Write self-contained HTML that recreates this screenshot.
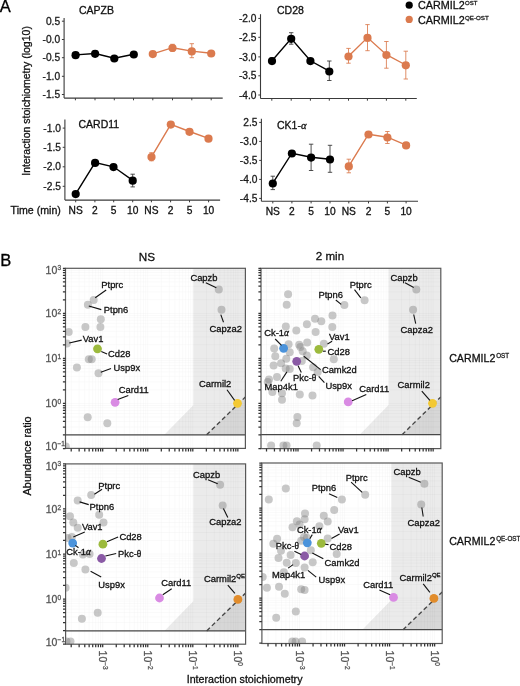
<!DOCTYPE html>
<html><head><meta charset="utf-8"><style>
html,body{margin:0;padding:0;background:#fff;width:520px;height:686px;overflow:hidden}
svg{filter:blur(0.3px);display:block;font-family:"Liberation Sans", sans-serif}
</style></head><body>
<svg width="520" height="686" viewBox="0 0 520 686">
<line x1="64.10" y1="18.00" x2="64.10" y2="98.10" stroke="#3a3a3a" stroke-width="1.1" />
<line x1="64.10" y1="98.10" x2="222.70" y2="98.10" stroke="#3a3a3a" stroke-width="1.1" />
<line x1="61.90" y1="21.20" x2="64.10" y2="21.20" stroke="#3a3a3a" stroke-width="1" />
<text x="60.10" y="24.85" font-size="10.2" fill="#1a1a1a" stroke="#1a1a1a" stroke-width="0.3" text-anchor="end" >0.5</text>
<line x1="61.90" y1="39.50" x2="64.10" y2="39.50" stroke="#3a3a3a" stroke-width="1" />
<text x="60.10" y="43.15" font-size="10.2" fill="#1a1a1a" stroke="#1a1a1a" stroke-width="0.3" text-anchor="end" >-0.0</text>
<line x1="61.90" y1="57.70" x2="64.10" y2="57.70" stroke="#3a3a3a" stroke-width="1" />
<text x="60.10" y="61.35" font-size="10.2" fill="#1a1a1a" stroke="#1a1a1a" stroke-width="0.3" text-anchor="end" >-0.5</text>
<line x1="61.90" y1="76.30" x2="64.10" y2="76.30" stroke="#3a3a3a" stroke-width="1" />
<text x="60.10" y="79.95" font-size="10.2" fill="#1a1a1a" stroke="#1a1a1a" stroke-width="0.3" text-anchor="end" >-1.0</text>
<line x1="61.90" y1="94.50" x2="64.10" y2="94.50" stroke="#3a3a3a" stroke-width="1" />
<text x="60.10" y="98.15" font-size="10.2" fill="#1a1a1a" stroke="#1a1a1a" stroke-width="0.3" text-anchor="end" >-1.5</text>
<line x1="75.40" y1="98.10" x2="75.40" y2="100.30" stroke="#3a3a3a" stroke-width="1" />
<line x1="95.00" y1="98.10" x2="95.00" y2="100.30" stroke="#3a3a3a" stroke-width="1" />
<line x1="114.30" y1="98.10" x2="114.30" y2="100.30" stroke="#3a3a3a" stroke-width="1" />
<line x1="133.50" y1="98.10" x2="133.50" y2="100.30" stroke="#3a3a3a" stroke-width="1" />
<line x1="152.80" y1="98.10" x2="152.80" y2="100.30" stroke="#3a3a3a" stroke-width="1" />
<line x1="172.50" y1="98.10" x2="172.50" y2="100.30" stroke="#3a3a3a" stroke-width="1" />
<line x1="191.80" y1="98.10" x2="191.80" y2="100.30" stroke="#3a3a3a" stroke-width="1" />
<line x1="211.20" y1="98.10" x2="211.20" y2="100.30" stroke="#3a3a3a" stroke-width="1" />
<text x="79.00" y="13.80" font-size="10.5" fill="#111" stroke="#111" stroke-width="0.3" text-anchor="start" >CAPZB</text>
<polyline points="75.60,54.90 95.10,53.50 114.30,58.20 133.80,54.20" fill="none" stroke="#000" stroke-width="1.4"/>
<line x1="95.10" y1="50.50" x2="95.10" y2="56.50" stroke="#333" stroke-width="1.0" stroke-opacity="0.85"/>
<line x1="92.90" y1="50.50" x2="97.30" y2="50.50" stroke="#333" stroke-width="1.0" stroke-opacity="0.85"/>
<line x1="92.90" y1="56.50" x2="97.30" y2="56.50" stroke="#333" stroke-width="1.0" stroke-opacity="0.85"/>
<circle cx="75.60" cy="55.20" r="4.1" fill="#000" />
<circle cx="95.10" cy="53.80" r="4.1" fill="#000" />
<circle cx="114.30" cy="58.50" r="4.1" fill="#000" />
<circle cx="133.80" cy="54.50" r="4.1" fill="#000" />
<polyline points="152.80,53.80 172.50,47.70 191.80,51.10 211.20,53.20" fill="none" stroke="#DB7A4E" stroke-width="1.4"/>
<line x1="172.50" y1="44.30" x2="172.50" y2="51.30" stroke="#DB7A4E" stroke-width="1.0" stroke-opacity="0.85"/>
<line x1="170.30" y1="44.30" x2="174.70" y2="44.30" stroke="#DB7A4E" stroke-width="1.0" stroke-opacity="0.85"/>
<line x1="170.30" y1="51.30" x2="174.70" y2="51.30" stroke="#DB7A4E" stroke-width="1.0" stroke-opacity="0.85"/>
<line x1="191.80" y1="43.70" x2="191.80" y2="57.70" stroke="#DB7A4E" stroke-width="1.0" stroke-opacity="0.85"/>
<line x1="189.60" y1="43.70" x2="194.00" y2="43.70" stroke="#DB7A4E" stroke-width="1.0" stroke-opacity="0.85"/>
<line x1="189.60" y1="57.70" x2="194.00" y2="57.70" stroke="#DB7A4E" stroke-width="1.0" stroke-opacity="0.85"/>
<circle cx="152.80" cy="54.10" r="4.1" fill="#DB7A4E" />
<circle cx="172.50" cy="48.00" r="4.1" fill="#DB7A4E" />
<circle cx="191.80" cy="51.40" r="4.1" fill="#DB7A4E" />
<circle cx="211.20" cy="53.50" r="4.1" fill="#DB7A4E" />
<line x1="260.50" y1="14.20" x2="260.50" y2="98.50" stroke="#3a3a3a" stroke-width="1.1" />
<line x1="260.50" y1="98.50" x2="416.80" y2="98.50" stroke="#3a3a3a" stroke-width="1.1" />
<line x1="258.30" y1="18.40" x2="260.50" y2="18.40" stroke="#3a3a3a" stroke-width="1" />
<text x="256.50" y="22.05" font-size="10.2" fill="#1a1a1a" stroke="#1a1a1a" stroke-width="0.3" text-anchor="end" >-2.0</text>
<line x1="258.30" y1="37.30" x2="260.50" y2="37.30" stroke="#3a3a3a" stroke-width="1" />
<text x="256.50" y="40.95" font-size="10.2" fill="#1a1a1a" stroke="#1a1a1a" stroke-width="0.3" text-anchor="end" >-2.5</text>
<line x1="258.30" y1="56.90" x2="260.50" y2="56.90" stroke="#3a3a3a" stroke-width="1" />
<text x="256.50" y="60.55" font-size="10.2" fill="#1a1a1a" stroke="#1a1a1a" stroke-width="0.3" text-anchor="end" >-3.0</text>
<line x1="258.30" y1="75.80" x2="260.50" y2="75.80" stroke="#3a3a3a" stroke-width="1" />
<text x="256.50" y="79.45" font-size="10.2" fill="#1a1a1a" stroke="#1a1a1a" stroke-width="0.3" text-anchor="end" >-3.5</text>
<line x1="258.30" y1="95.00" x2="260.50" y2="95.00" stroke="#3a3a3a" stroke-width="1" />
<text x="256.50" y="98.65" font-size="10.2" fill="#1a1a1a" stroke="#1a1a1a" stroke-width="0.3" text-anchor="end" >-4.0</text>
<line x1="271.80" y1="98.50" x2="271.80" y2="100.70" stroke="#3a3a3a" stroke-width="1" />
<line x1="291.20" y1="98.50" x2="291.20" y2="100.70" stroke="#3a3a3a" stroke-width="1" />
<line x1="310.40" y1="98.50" x2="310.40" y2="100.70" stroke="#3a3a3a" stroke-width="1" />
<line x1="329.30" y1="98.50" x2="329.30" y2="100.70" stroke="#3a3a3a" stroke-width="1" />
<line x1="348.50" y1="98.50" x2="348.50" y2="100.70" stroke="#3a3a3a" stroke-width="1" />
<line x1="367.40" y1="98.50" x2="367.40" y2="100.70" stroke="#3a3a3a" stroke-width="1" />
<line x1="386.40" y1="98.50" x2="386.40" y2="100.70" stroke="#3a3a3a" stroke-width="1" />
<line x1="405.80" y1="98.50" x2="405.80" y2="100.70" stroke="#3a3a3a" stroke-width="1" />
<text x="277.00" y="14.20" font-size="10.5" fill="#111" stroke="#111" stroke-width="0.3" text-anchor="start" >CD28</text>
<polyline points="272.00,60.80 291.20,38.50 310.40,60.80 329.30,71.20" fill="none" stroke="#000" stroke-width="1.4"/>
<line x1="272.00" y1="58.00" x2="272.00" y2="63.50" stroke="#333" stroke-width="1.0" stroke-opacity="0.85"/>
<line x1="269.80" y1="58.00" x2="274.20" y2="58.00" stroke="#333" stroke-width="1.0" stroke-opacity="0.85"/>
<line x1="269.80" y1="63.50" x2="274.20" y2="63.50" stroke="#333" stroke-width="1.0" stroke-opacity="0.85"/>
<line x1="291.20" y1="32.70" x2="291.20" y2="44.20" stroke="#333" stroke-width="1.0" stroke-opacity="0.85"/>
<line x1="289.00" y1="32.70" x2="293.40" y2="32.70" stroke="#333" stroke-width="1.0" stroke-opacity="0.85"/>
<line x1="289.00" y1="44.20" x2="293.40" y2="44.20" stroke="#333" stroke-width="1.0" stroke-opacity="0.85"/>
<line x1="329.30" y1="61.00" x2="329.30" y2="80.50" stroke="#333" stroke-width="1.0" stroke-opacity="0.85"/>
<line x1="327.10" y1="61.00" x2="331.50" y2="61.00" stroke="#333" stroke-width="1.0" stroke-opacity="0.85"/>
<line x1="327.10" y1="80.50" x2="331.50" y2="80.50" stroke="#333" stroke-width="1.0" stroke-opacity="0.85"/>
<circle cx="272.00" cy="61.10" r="4.1" fill="#000" />
<circle cx="291.20" cy="38.80" r="4.1" fill="#000" />
<circle cx="310.40" cy="61.10" r="4.1" fill="#000" />
<circle cx="329.30" cy="71.50" r="4.1" fill="#000" />
<polyline points="348.50,56.20 367.50,37.60 386.40,54.70 405.80,65.00" fill="none" stroke="#DB7A4E" stroke-width="1.4"/>
<line x1="348.50" y1="48.40" x2="348.50" y2="63.20" stroke="#DB7A4E" stroke-width="1.0" stroke-opacity="0.85"/>
<line x1="346.30" y1="48.40" x2="350.70" y2="48.40" stroke="#DB7A4E" stroke-width="1.0" stroke-opacity="0.85"/>
<line x1="346.30" y1="63.20" x2="350.70" y2="63.20" stroke="#DB7A4E" stroke-width="1.0" stroke-opacity="0.85"/>
<line x1="367.50" y1="24.60" x2="367.50" y2="50.70" stroke="#DB7A4E" stroke-width="1.0" stroke-opacity="0.85"/>
<line x1="365.30" y1="24.60" x2="369.70" y2="24.60" stroke="#DB7A4E" stroke-width="1.0" stroke-opacity="0.85"/>
<line x1="365.30" y1="50.70" x2="369.70" y2="50.70" stroke="#DB7A4E" stroke-width="1.0" stroke-opacity="0.85"/>
<line x1="386.40" y1="41.50" x2="386.40" y2="68.20" stroke="#DB7A4E" stroke-width="1.0" stroke-opacity="0.85"/>
<line x1="384.20" y1="41.50" x2="388.60" y2="41.50" stroke="#DB7A4E" stroke-width="1.0" stroke-opacity="0.85"/>
<line x1="384.20" y1="68.20" x2="388.60" y2="68.20" stroke="#DB7A4E" stroke-width="1.0" stroke-opacity="0.85"/>
<line x1="405.80" y1="51.20" x2="405.80" y2="79.00" stroke="#DB7A4E" stroke-width="1.0" stroke-opacity="0.85"/>
<line x1="403.60" y1="51.20" x2="408.00" y2="51.20" stroke="#DB7A4E" stroke-width="1.0" stroke-opacity="0.85"/>
<line x1="403.60" y1="79.00" x2="408.00" y2="79.00" stroke="#DB7A4E" stroke-width="1.0" stroke-opacity="0.85"/>
<circle cx="348.50" cy="56.50" r="4.1" fill="#DB7A4E" />
<circle cx="367.50" cy="37.90" r="4.1" fill="#DB7A4E" />
<circle cx="386.40" cy="55.00" r="4.1" fill="#DB7A4E" />
<circle cx="405.80" cy="65.30" r="4.1" fill="#DB7A4E" />
<line x1="64.90" y1="119.60" x2="64.90" y2="200.10" stroke="#3a3a3a" stroke-width="1.1" />
<line x1="64.90" y1="200.10" x2="220.10" y2="200.10" stroke="#3a3a3a" stroke-width="1.1" />
<line x1="62.70" y1="128.10" x2="64.90" y2="128.10" stroke="#3a3a3a" stroke-width="1" />
<text x="60.90" y="131.75" font-size="10.2" fill="#1a1a1a" stroke="#1a1a1a" stroke-width="0.3" text-anchor="end" >-1.0</text>
<line x1="62.70" y1="147.30" x2="64.90" y2="147.30" stroke="#3a3a3a" stroke-width="1" />
<text x="60.90" y="150.95" font-size="10.2" fill="#1a1a1a" stroke="#1a1a1a" stroke-width="0.3" text-anchor="end" >-1.5</text>
<line x1="62.70" y1="166.80" x2="64.90" y2="166.80" stroke="#3a3a3a" stroke-width="1" />
<text x="60.90" y="170.45" font-size="10.2" fill="#1a1a1a" stroke="#1a1a1a" stroke-width="0.3" text-anchor="end" >-2.0</text>
<line x1="62.70" y1="186.30" x2="64.90" y2="186.30" stroke="#3a3a3a" stroke-width="1" />
<text x="60.90" y="189.95" font-size="10.2" fill="#1a1a1a" stroke="#1a1a1a" stroke-width="0.3" text-anchor="end" >-2.5</text>
<line x1="75.70" y1="200.10" x2="75.70" y2="202.30" stroke="#3a3a3a" stroke-width="1" />
<line x1="94.90" y1="200.10" x2="94.90" y2="202.30" stroke="#3a3a3a" stroke-width="1" />
<line x1="113.70" y1="200.10" x2="113.70" y2="202.30" stroke="#3a3a3a" stroke-width="1" />
<line x1="132.70" y1="200.10" x2="132.70" y2="202.30" stroke="#3a3a3a" stroke-width="1" />
<line x1="151.40" y1="200.10" x2="151.40" y2="202.30" stroke="#3a3a3a" stroke-width="1" />
<line x1="170.60" y1="200.10" x2="170.60" y2="202.30" stroke="#3a3a3a" stroke-width="1" />
<line x1="189.50" y1="200.10" x2="189.50" y2="202.30" stroke="#3a3a3a" stroke-width="1" />
<line x1="208.60" y1="200.10" x2="208.60" y2="202.30" stroke="#3a3a3a" stroke-width="1" />
<text x="78.50" y="128.00" font-size="10.5" fill="#111" stroke="#111" stroke-width="0.3" text-anchor="start" >CARD11</text>
<polyline points="75.70,193.80 95.10,162.60 113.50,166.80 132.70,180.40" fill="none" stroke="#000" stroke-width="1.4"/>
<line x1="132.70" y1="174.20" x2="132.70" y2="186.90" stroke="#333" stroke-width="1.0" stroke-opacity="0.85"/>
<line x1="130.50" y1="174.20" x2="134.90" y2="174.20" stroke="#333" stroke-width="1.0" stroke-opacity="0.85"/>
<line x1="130.50" y1="186.90" x2="134.90" y2="186.90" stroke="#333" stroke-width="1.0" stroke-opacity="0.85"/>
<circle cx="75.70" cy="194.10" r="4.1" fill="#000" />
<circle cx="95.10" cy="162.90" r="4.1" fill="#000" />
<circle cx="113.50" cy="167.10" r="4.1" fill="#000" />
<circle cx="132.70" cy="180.70" r="4.1" fill="#000" />
<polyline points="151.50,156.80 170.80,124.30 189.50,131.50 208.50,138.40" fill="none" stroke="#DB7A4E" stroke-width="1.4"/>
<line x1="151.50" y1="152.70" x2="151.50" y2="160.80" stroke="#DB7A4E" stroke-width="1.0" stroke-opacity="0.85"/>
<line x1="149.30" y1="152.70" x2="153.70" y2="152.70" stroke="#DB7A4E" stroke-width="1.0" stroke-opacity="0.85"/>
<line x1="149.30" y1="160.80" x2="153.70" y2="160.80" stroke="#DB7A4E" stroke-width="1.0" stroke-opacity="0.85"/>
<circle cx="151.50" cy="157.10" r="4.1" fill="#DB7A4E" />
<circle cx="170.80" cy="124.60" r="4.1" fill="#DB7A4E" />
<circle cx="189.50" cy="131.80" r="4.1" fill="#DB7A4E" />
<circle cx="208.50" cy="138.70" r="4.1" fill="#DB7A4E" />
<text x="75.70" y="213.80" font-size="10.2" fill="#111" stroke="#111" stroke-width="0.3" text-anchor="middle" >NS</text>
<text x="94.90" y="213.80" font-size="10.2" fill="#111" stroke="#111" stroke-width="0.3" text-anchor="middle" >2</text>
<text x="113.70" y="213.80" font-size="10.2" fill="#111" stroke="#111" stroke-width="0.3" text-anchor="middle" >5</text>
<text x="132.70" y="213.80" font-size="10.2" fill="#111" stroke="#111" stroke-width="0.3" text-anchor="middle" >10</text>
<text x="151.40" y="213.80" font-size="10.2" fill="#111" stroke="#111" stroke-width="0.3" text-anchor="middle" >NS</text>
<text x="170.60" y="213.80" font-size="10.2" fill="#111" stroke="#111" stroke-width="0.3" text-anchor="middle" >2</text>
<text x="189.50" y="213.80" font-size="10.2" fill="#111" stroke="#111" stroke-width="0.3" text-anchor="middle" >5</text>
<text x="208.60" y="213.80" font-size="10.2" fill="#111" stroke="#111" stroke-width="0.3" text-anchor="middle" >10</text>
<line x1="261.40" y1="118.70" x2="261.40" y2="201.20" stroke="#3a3a3a" stroke-width="1.1" />
<line x1="261.40" y1="201.20" x2="418.00" y2="201.20" stroke="#3a3a3a" stroke-width="1.1" />
<line x1="259.20" y1="122.40" x2="261.40" y2="122.40" stroke="#3a3a3a" stroke-width="1" />
<text x="257.40" y="126.05" font-size="10.2" fill="#1a1a1a" stroke="#1a1a1a" stroke-width="0.3" text-anchor="end" >2.5</text>
<line x1="259.20" y1="141.40" x2="261.40" y2="141.40" stroke="#3a3a3a" stroke-width="1" />
<text x="257.40" y="145.05" font-size="10.2" fill="#1a1a1a" stroke="#1a1a1a" stroke-width="0.3" text-anchor="end" >-3.0</text>
<line x1="259.20" y1="160.40" x2="261.40" y2="160.40" stroke="#3a3a3a" stroke-width="1" />
<text x="257.40" y="164.05" font-size="10.2" fill="#1a1a1a" stroke="#1a1a1a" stroke-width="0.3" text-anchor="end" >-3.5</text>
<line x1="259.20" y1="179.40" x2="261.40" y2="179.40" stroke="#3a3a3a" stroke-width="1" />
<text x="257.40" y="183.05" font-size="10.2" fill="#1a1a1a" stroke="#1a1a1a" stroke-width="0.3" text-anchor="end" >-4.0</text>
<line x1="259.20" y1="198.40" x2="261.40" y2="198.40" stroke="#3a3a3a" stroke-width="1" />
<text x="257.40" y="202.05" font-size="10.2" fill="#1a1a1a" stroke="#1a1a1a" stroke-width="0.3" text-anchor="end" >-4.5</text>
<line x1="272.80" y1="201.20" x2="272.80" y2="203.40" stroke="#3a3a3a" stroke-width="1" />
<line x1="291.90" y1="201.20" x2="291.90" y2="203.40" stroke="#3a3a3a" stroke-width="1" />
<line x1="311.10" y1="201.20" x2="311.10" y2="203.40" stroke="#3a3a3a" stroke-width="1" />
<line x1="330.00" y1="201.20" x2="330.00" y2="203.40" stroke="#3a3a3a" stroke-width="1" />
<line x1="348.80" y1="201.20" x2="348.80" y2="203.40" stroke="#3a3a3a" stroke-width="1" />
<line x1="368.50" y1="201.20" x2="368.50" y2="203.40" stroke="#3a3a3a" stroke-width="1" />
<line x1="387.40" y1="201.20" x2="387.40" y2="203.40" stroke="#3a3a3a" stroke-width="1" />
<line x1="406.10" y1="201.20" x2="406.10" y2="203.40" stroke="#3a3a3a" stroke-width="1" />
<text x="277.00" y="128.50" font-size="10.5" fill="#111" stroke="#111" stroke-width="0.3" text-anchor="start" >CK1-<tspan font-family="Liberation Serif" font-style="italic">&#945;</tspan></text>
<polyline points="272.80,183.20 291.90,153.20 311.10,157.30 330.00,159.20" fill="none" stroke="#000" stroke-width="1.4"/>
<line x1="272.80" y1="176.20" x2="272.80" y2="189.60" stroke="#333" stroke-width="1.0" stroke-opacity="0.85"/>
<line x1="270.60" y1="176.20" x2="275.00" y2="176.20" stroke="#333" stroke-width="1.0" stroke-opacity="0.85"/>
<line x1="270.60" y1="189.60" x2="275.00" y2="189.60" stroke="#333" stroke-width="1.0" stroke-opacity="0.85"/>
<line x1="291.90" y1="150.50" x2="291.90" y2="155.50" stroke="#333" stroke-width="1.0" stroke-opacity="0.85"/>
<line x1="289.70" y1="150.50" x2="294.10" y2="150.50" stroke="#333" stroke-width="1.0" stroke-opacity="0.85"/>
<line x1="289.70" y1="155.50" x2="294.10" y2="155.50" stroke="#333" stroke-width="1.0" stroke-opacity="0.85"/>
<line x1="311.10" y1="144.20" x2="311.10" y2="170.50" stroke="#333" stroke-width="1.0" stroke-opacity="0.85"/>
<line x1="308.90" y1="144.20" x2="313.30" y2="144.20" stroke="#333" stroke-width="1.0" stroke-opacity="0.85"/>
<line x1="308.90" y1="170.50" x2="313.30" y2="170.50" stroke="#333" stroke-width="1.0" stroke-opacity="0.85"/>
<line x1="330.00" y1="145.30" x2="330.00" y2="172.30" stroke="#333" stroke-width="1.0" stroke-opacity="0.85"/>
<line x1="327.80" y1="145.30" x2="332.20" y2="145.30" stroke="#333" stroke-width="1.0" stroke-opacity="0.85"/>
<line x1="327.80" y1="172.30" x2="332.20" y2="172.30" stroke="#333" stroke-width="1.0" stroke-opacity="0.85"/>
<circle cx="272.80" cy="183.50" r="4.1" fill="#000" />
<circle cx="291.90" cy="153.50" r="4.1" fill="#000" />
<circle cx="311.10" cy="157.60" r="4.1" fill="#000" />
<circle cx="330.00" cy="159.50" r="4.1" fill="#000" />
<polyline points="348.80,166.10 368.50,134.20 387.40,137.20 406.10,145.10" fill="none" stroke="#DB7A4E" stroke-width="1.4"/>
<line x1="348.80" y1="159.20" x2="348.80" y2="172.80" stroke="#DB7A4E" stroke-width="1.0" stroke-opacity="0.85"/>
<line x1="346.60" y1="159.20" x2="351.00" y2="159.20" stroke="#DB7A4E" stroke-width="1.0" stroke-opacity="0.85"/>
<line x1="346.60" y1="172.80" x2="351.00" y2="172.80" stroke="#DB7A4E" stroke-width="1.0" stroke-opacity="0.85"/>
<line x1="387.40" y1="131.50" x2="387.40" y2="143.50" stroke="#DB7A4E" stroke-width="1.0" stroke-opacity="0.85"/>
<line x1="385.20" y1="131.50" x2="389.60" y2="131.50" stroke="#DB7A4E" stroke-width="1.0" stroke-opacity="0.85"/>
<line x1="385.20" y1="143.50" x2="389.60" y2="143.50" stroke="#DB7A4E" stroke-width="1.0" stroke-opacity="0.85"/>
<circle cx="348.80" cy="166.40" r="4.1" fill="#DB7A4E" />
<circle cx="368.50" cy="134.50" r="4.1" fill="#DB7A4E" />
<circle cx="387.40" cy="137.50" r="4.1" fill="#DB7A4E" />
<circle cx="406.10" cy="145.40" r="4.1" fill="#DB7A4E" />
<text x="272.80" y="215.00" font-size="10.2" fill="#111" stroke="#111" stroke-width="0.3" text-anchor="middle" >NS</text>
<text x="291.90" y="215.00" font-size="10.2" fill="#111" stroke="#111" stroke-width="0.3" text-anchor="middle" >2</text>
<text x="311.10" y="215.00" font-size="10.2" fill="#111" stroke="#111" stroke-width="0.3" text-anchor="middle" >5</text>
<text x="330.00" y="215.00" font-size="10.2" fill="#111" stroke="#111" stroke-width="0.3" text-anchor="middle" >10</text>
<text x="348.80" y="215.00" font-size="10.2" fill="#111" stroke="#111" stroke-width="0.3" text-anchor="middle" >NS</text>
<text x="368.50" y="215.00" font-size="10.2" fill="#111" stroke="#111" stroke-width="0.3" text-anchor="middle" >2</text>
<text x="387.40" y="215.00" font-size="10.2" fill="#111" stroke="#111" stroke-width="0.3" text-anchor="middle" >5</text>
<text x="406.10" y="215.00" font-size="10.2" fill="#111" stroke="#111" stroke-width="0.3" text-anchor="middle" >10</text>
<text x="10.60" y="214.00" font-size="10.6" fill="#111" stroke="#111" stroke-width="0.3" text-anchor="start" >Time (min)</text>
<text transform="translate(29.7,100.9) rotate(-90)" font-size="10.52" fill="#111" stroke="#111" stroke-width="0.3" text-anchor="middle">Interaction stoichiometry (log10)</text>
<text x="-0.30" y="11.80" font-size="16.5" fill="#000" stroke="#000" stroke-width="0.3" text-anchor="start" >A</text>
<text x="0.30" y="265.80" font-size="16.5" fill="#000" stroke="#000" stroke-width="0.3" text-anchor="start" >B</text>
<circle cx="409.20" cy="5.20" r="3.6" fill="#000" />
<circle cx="409.20" cy="19.40" r="3.6" fill="#DB7A4E" />
<text x="418.00" y="9.30" font-size="10.8" fill="#111" stroke="#111" stroke-width="0.3" text-anchor="start" >CARMIL2</text>
<text x="465.00" y="4.80" font-size="6.0" fill="#222" stroke="#222" stroke-width="0.3" text-anchor="start" >OST</text>
<text x="418.00" y="23.70" font-size="10.8" fill="#111" stroke="#111" stroke-width="0.3" text-anchor="start" >CARMIL2</text>
<text x="465.00" y="20.30" font-size="6.2" fill="#222" stroke="#222" stroke-width="0.3" text-anchor="start" >QE-OST</text>
<clipPath id="p1"><rect x="65.50" y="268.30" width="179.90" height="180.10"/></clipPath>
<g clip-path="url(#p1)">
<polygon points="193.30,268.30 245.40,268.30 245.40,434.80 164.30,434.80 193.30,405.20" fill="#EBEBEB"/>
<polygon points="206.60,434.80 245.40,434.80 245.40,397.00" fill="#D7D7D7"/>
<path d="M71.21 268.30V448.40M79.14 268.30V448.40M84.77 268.30V448.40M89.14 268.30V448.40M92.71 268.30V448.40M95.72 268.30V448.40M98.33 268.30V448.40M100.64 268.30V448.40M102.70 268.30V448.40M116.26 268.30V448.40M124.19 268.30V448.40M129.82 268.30V448.40M134.19 268.30V448.40M137.76 268.30V448.40M140.77 268.30V448.40M143.38 268.30V448.40M145.69 268.30V448.40M147.75 268.30V448.40M161.31 268.30V448.40M169.24 268.30V448.40M174.87 268.30V448.40M179.24 268.30V448.40M182.81 268.30V448.40M185.82 268.30V448.40M188.43 268.30V448.40M190.74 268.30V448.40M192.80 268.30V448.40M206.36 268.30V448.40M214.29 268.30V448.40M219.92 268.30V448.40M224.29 268.30V448.40M227.86 268.30V448.40M230.87 268.30V448.40M233.48 268.30V448.40M235.79 268.30V448.40M237.85 268.30V448.40M65.50 434.94H245.40M65.50 427.01H245.40M65.50 421.38H245.40M65.50 417.01H245.40M65.50 413.44H245.40M65.50 410.43H245.40M65.50 407.82H245.40M65.50 405.51H245.40M65.50 403.45H245.40M65.50 389.89H245.40M65.50 381.96H245.40M65.50 376.33H245.40M65.50 371.96H245.40M65.50 368.39H245.40M65.50 365.38H245.40M65.50 362.77H245.40M65.50 360.46H245.40M65.50 358.40H245.40M65.50 344.84H245.40M65.50 336.91H245.40M65.50 331.28H245.40M65.50 326.91H245.40M65.50 323.34H245.40M65.50 320.33H245.40M65.50 317.72H245.40M65.50 315.41H245.40M65.50 313.35H245.40M65.50 299.79H245.40M65.50 291.86H245.40M65.50 286.23H245.40M65.50 281.86H245.40M65.50 278.29H245.40M65.50 275.28H245.40M65.50 272.67H245.40M65.50 270.36H245.40" stroke="#000" stroke-opacity="0.03" stroke-width="0.8" fill="none"/>
<line x1="206.60" y1="434.80" x2="245.40" y2="397.00" stroke="#454545" stroke-width="1.35" stroke-dasharray="4.4,2.8"/>
<circle cx="93.70" cy="300.00" r="4.0" fill="#808080" fill-opacity="0.43"/>
<circle cx="87.90" cy="304.80" r="4.0" fill="#808080" fill-opacity="0.43"/>
<circle cx="100.80" cy="319.20" r="4.0" fill="#808080" fill-opacity="0.43"/>
<circle cx="85.40" cy="326.90" r="4.0" fill="#808080" fill-opacity="0.43"/>
<circle cx="100.40" cy="326.90" r="4.0" fill="#808080" fill-opacity="0.43"/>
<circle cx="68.70" cy="331.90" r="4.0" fill="#808080" fill-opacity="0.43"/>
<circle cx="66.90" cy="343.60" r="4.0" fill="#808080" fill-opacity="0.43"/>
<circle cx="88.80" cy="359.20" r="4.0" fill="#808080" fill-opacity="0.43"/>
<circle cx="91.70" cy="359.20" r="4.0" fill="#808080" fill-opacity="0.43"/>
<circle cx="76.90" cy="367.50" r="4.0" fill="#808080" fill-opacity="0.43"/>
<circle cx="98.50" cy="373.30" r="4.0" fill="#808080" fill-opacity="0.43"/>
<circle cx="87.70" cy="417.30" r="4.0" fill="#808080" fill-opacity="0.43"/>
<circle cx="107.30" cy="423.20" r="4.0" fill="#808080" fill-opacity="0.43"/>
<circle cx="65.80" cy="446.50" r="4.0" fill="#808080" fill-opacity="0.43"/>
<circle cx="218.80" cy="289.40" r="4.0" fill="#808080" fill-opacity="0.43"/>
<circle cx="221.50" cy="309.80" r="4.0" fill="#808080" fill-opacity="0.43"/>
<circle cx="97.50" cy="348.80" r="4.4" fill="#9CBA3D" />
<circle cx="115.10" cy="402.30" r="4.4" fill="#D98BE3" />
<circle cx="237.50" cy="403.30" r="4.4" fill="#F3C934" />
</g>
<line x1="65.50" y1="434.80" x2="245.40" y2="434.80" stroke="#474747" stroke-width="1.3" />
<rect x="65.50" y="268.30" width="179.90" height="180.10" fill="none" stroke="#585858" stroke-width="1.2"/>
<path d="M62.90 448.50H65.50M62.90 434.94H65.50M62.90 427.01H65.50M62.90 421.38H65.50M62.90 417.01H65.50M62.90 413.44H65.50M62.90 410.43H65.50M62.90 407.82H65.50M62.90 405.51H65.50M62.90 403.45H65.50M62.90 389.89H65.50M62.90 381.96H65.50M62.90 376.33H65.50M62.90 371.96H65.50M62.90 368.39H65.50M62.90 365.38H65.50M62.90 362.77H65.50M62.90 360.46H65.50M62.90 358.40H65.50M62.90 344.84H65.50M62.90 336.91H65.50M62.90 331.28H65.50M62.90 326.91H65.50M62.90 323.34H65.50M62.90 320.33H65.50M62.90 317.72H65.50M62.90 315.41H65.50M62.90 313.35H65.50M62.90 299.79H65.50M62.90 291.86H65.50M62.90 286.23H65.50M62.90 281.86H65.50M62.90 278.29H65.50M62.90 275.28H65.50M62.90 272.67H65.50M62.90 270.36H65.50M62.90 268.30H65.50M71.21 448.40V451.40M79.14 448.40V451.40M84.77 448.40V451.40M89.14 448.40V451.40M92.71 448.40V451.40M95.72 448.40V451.40M98.33 448.40V451.40M100.64 448.40V451.40M102.70 448.40V451.40M116.26 448.40V451.40M124.19 448.40V451.40M129.82 448.40V451.40M134.19 448.40V451.40M137.76 448.40V451.40M140.77 448.40V451.40M143.38 448.40V451.40M145.69 448.40V451.40M147.75 448.40V451.40M161.31 448.40V451.40M169.24 448.40V451.40M174.87 448.40V451.40M179.24 448.40V451.40M182.81 448.40V451.40M185.82 448.40V451.40M188.43 448.40V451.40M190.74 448.40V451.40M192.80 448.40V451.40M206.36 448.40V451.40M214.29 448.40V451.40M219.92 448.40V451.40M224.29 448.40V451.40M227.86 448.40V451.40M230.87 448.40V451.40M233.48 448.40V451.40M235.79 448.40V451.40M237.85 448.40V451.40" stroke="#333" stroke-width="1.25" fill="none"/>
<line x1="95.20" y1="297.70" x2="106.20" y2="290.00" stroke="#111" stroke-width="1.1" />
<text x="101.30" y="288.20" font-size="9.4" fill="#111" stroke="#111" stroke-width="0.3" text-anchor="start" >Ptprc</text>
<line x1="88.80" y1="306.00" x2="101.30" y2="309.60" stroke="#111" stroke-width="1.1" />
<text x="103.80" y="312.60" font-size="9.4" fill="#111" stroke="#111" stroke-width="0.3" text-anchor="start" >Ptpn6</text>
<line x1="69.20" y1="343.00" x2="81.70" y2="340.10" stroke="#111" stroke-width="1.1" />
<text x="82.70" y="342.40" font-size="9.4" fill="#111" stroke="#111" stroke-width="0.3" text-anchor="start" >Vav1</text>
<line x1="101.30" y1="351.50" x2="107.10" y2="354.00" stroke="#111" stroke-width="1.1" />
<text x="108.00" y="357.00" font-size="9.4" fill="#111" stroke="#111" stroke-width="0.3" text-anchor="start" >Cd28</text>
<line x1="100.80" y1="372.30" x2="111.00" y2="368.50" stroke="#111" stroke-width="1.1" />
<text x="113.50" y="371.30" font-size="9.4" fill="#111" stroke="#111" stroke-width="0.3" text-anchor="start" >Usp9x</text>
<line x1="117.70" y1="399.60" x2="128.30" y2="395.40" stroke="#111" stroke-width="1.1" />
<text x="118.70" y="392.50" font-size="9.4" fill="#111" stroke="#111" stroke-width="0.3" text-anchor="start" >Card11</text>
<line x1="205.80" y1="282.70" x2="216.30" y2="287.70" stroke="#111" stroke-width="1.1" />
<text x="190.40" y="280.90" font-size="9.4" fill="#111" stroke="#111" stroke-width="0.3" text-anchor="start" >Capzb</text>
<line x1="220.80" y1="314.60" x2="223.50" y2="322.30" stroke="#111" stroke-width="1.1" />
<text x="209.60" y="332.00" font-size="9.4" fill="#111" stroke="#111" stroke-width="0.3" text-anchor="start" >Capza2</text>
<line x1="227.00" y1="389.80" x2="234.60" y2="400.40" stroke="#111" stroke-width="1.1" />
<text x="199.00" y="387.00" font-size="9.4" fill="#111" stroke="#111" stroke-width="0.3" text-anchor="start" >Carmil2</text>
<text x="57.30" y="449.90" font-size="10.5" fill="#555" stroke="#555" stroke-width="0.3" text-anchor="end">10</text>
<text x="57.50" y="446.40" font-size="6.5" fill="#555" stroke="#555" stroke-width="0.3">&#8722;1</text>
<text x="57.30" y="407.45" font-size="10.5" fill="#555" stroke="#555" stroke-width="0.3" text-anchor="end">10</text>
<text x="57.50" y="403.95" font-size="6.5" fill="#555" stroke="#555" stroke-width="0.3">0</text>
<text x="57.30" y="362.40" font-size="10.5" fill="#555" stroke="#555" stroke-width="0.3" text-anchor="end">10</text>
<text x="57.50" y="358.90" font-size="6.5" fill="#555" stroke="#555" stroke-width="0.3">1</text>
<text x="57.30" y="317.45" font-size="10.5" fill="#555" stroke="#555" stroke-width="0.3" text-anchor="end">10</text>
<text x="57.50" y="313.95" font-size="6.5" fill="#555" stroke="#555" stroke-width="0.3">2</text>
<text x="57.30" y="273.90" font-size="10.5" fill="#555" stroke="#555" stroke-width="0.3" text-anchor="end">10</text>
<text x="57.50" y="270.40" font-size="6.5" fill="#555" stroke="#555" stroke-width="0.3">3</text>
<clipPath id="p2"><rect x="261.00" y="268.30" width="179.80" height="180.30"/></clipPath>
<g clip-path="url(#p2)">
<polygon points="388.60,268.30 440.80,268.30 440.80,434.70 359.60,434.70 388.60,405.10" fill="#EBEBEB"/>
<polygon points="402.10,434.70 440.80,434.70 440.80,396.90" fill="#D7D7D7"/>
<path d="M266.51 268.30V448.60M274.44 268.30V448.60M280.07 268.30V448.60M284.44 268.30V448.60M288.01 268.30V448.60M291.02 268.30V448.60M293.63 268.30V448.60M295.94 268.30V448.60M298.00 268.30V448.60M311.56 268.30V448.60M319.49 268.30V448.60M325.12 268.30V448.60M329.49 268.30V448.60M333.06 268.30V448.60M336.07 268.30V448.60M338.68 268.30V448.60M340.99 268.30V448.60M343.05 268.30V448.60M356.61 268.30V448.60M364.54 268.30V448.60M370.17 268.30V448.60M374.54 268.30V448.60M378.11 268.30V448.60M381.12 268.30V448.60M383.73 268.30V448.60M386.04 268.30V448.60M388.10 268.30V448.60M401.66 268.30V448.60M409.59 268.30V448.60M415.22 268.30V448.60M419.59 268.30V448.60M423.16 268.30V448.60M426.17 268.30V448.60M428.78 268.30V448.60M431.09 268.30V448.60M433.15 268.30V448.60M261.00 448.50H440.80M261.00 434.94H440.80M261.00 427.01H440.80M261.00 421.38H440.80M261.00 417.01H440.80M261.00 413.44H440.80M261.00 410.43H440.80M261.00 407.82H440.80M261.00 405.51H440.80M261.00 403.45H440.80M261.00 389.89H440.80M261.00 381.96H440.80M261.00 376.33H440.80M261.00 371.96H440.80M261.00 368.39H440.80M261.00 365.38H440.80M261.00 362.77H440.80M261.00 360.46H440.80M261.00 358.40H440.80M261.00 344.84H440.80M261.00 336.91H440.80M261.00 331.28H440.80M261.00 326.91H440.80M261.00 323.34H440.80M261.00 320.33H440.80M261.00 317.72H440.80M261.00 315.41H440.80M261.00 313.35H440.80M261.00 299.79H440.80M261.00 291.86H440.80M261.00 286.23H440.80M261.00 281.86H440.80M261.00 278.29H440.80M261.00 275.28H440.80M261.00 272.67H440.80M261.00 270.36H440.80" stroke="#000" stroke-opacity="0.03" stroke-width="0.8" fill="none"/>
<line x1="402.10" y1="434.70" x2="440.80" y2="396.90" stroke="#454545" stroke-width="1.35" stroke-dasharray="4.4,2.8"/>
<circle cx="288.10" cy="294.20" r="4.0" fill="#808080" fill-opacity="0.43"/>
<circle cx="286.70" cy="304.80" r="4.0" fill="#808080" fill-opacity="0.43"/>
<circle cx="344.40" cy="305.00" r="4.0" fill="#808080" fill-opacity="0.43"/>
<circle cx="332.50" cy="315.40" r="4.0" fill="#808080" fill-opacity="0.43"/>
<circle cx="315.00" cy="318.80" r="4.0" fill="#808080" fill-opacity="0.43"/>
<circle cx="321.30" cy="321.20" r="4.0" fill="#808080" fill-opacity="0.43"/>
<circle cx="306.90" cy="324.20" r="4.0" fill="#808080" fill-opacity="0.43"/>
<circle cx="332.30" cy="326.90" r="4.0" fill="#808080" fill-opacity="0.43"/>
<circle cx="285.80" cy="326.50" r="4.0" fill="#808080" fill-opacity="0.43"/>
<circle cx="296.30" cy="330.40" r="4.0" fill="#808080" fill-opacity="0.43"/>
<circle cx="315.60" cy="331.90" r="4.0" fill="#808080" fill-opacity="0.43"/>
<circle cx="323.90" cy="343.70" r="4.0" fill="#808080" fill-opacity="0.43"/>
<circle cx="288.60" cy="344.20" r="4.0" fill="#808080" fill-opacity="0.43"/>
<circle cx="274.20" cy="348.60" r="4.0" fill="#808080" fill-opacity="0.43"/>
<circle cx="289.70" cy="352.30" r="4.0" fill="#808080" fill-opacity="0.43"/>
<circle cx="275.30" cy="356.30" r="4.0" fill="#808080" fill-opacity="0.43"/>
<circle cx="286.30" cy="358.70" r="4.0" fill="#808080" fill-opacity="0.43"/>
<circle cx="281.10" cy="363.30" r="4.0" fill="#808080" fill-opacity="0.43"/>
<circle cx="273.60" cy="365.60" r="4.0" fill="#808080" fill-opacity="0.43"/>
<circle cx="285.70" cy="368.50" r="4.0" fill="#808080" fill-opacity="0.43"/>
<circle cx="289.70" cy="369.00" r="4.0" fill="#808080" fill-opacity="0.43"/>
<circle cx="307.20" cy="342.50" r="4.0" fill="#808080" fill-opacity="0.43"/>
<circle cx="300.40" cy="347.10" r="4.0" fill="#808080" fill-opacity="0.43"/>
<circle cx="299.20" cy="344.80" r="4.0" fill="#808080" fill-opacity="0.43"/>
<circle cx="302.70" cy="351.20" r="4.0" fill="#808080" fill-opacity="0.43"/>
<circle cx="306.80" cy="355.40" r="4.0" fill="#808080" fill-opacity="0.43"/>
<circle cx="301.80" cy="361.00" r="4.0" fill="#808080" fill-opacity="0.43"/>
<circle cx="333.80" cy="359.20" r="4.0" fill="#808080" fill-opacity="0.43"/>
<circle cx="313.10" cy="367.30" r="4.0" fill="#808080" fill-opacity="0.43"/>
<circle cx="317.70" cy="371.90" r="4.0" fill="#808080" fill-opacity="0.43"/>
<circle cx="277.00" cy="377.10" r="4.0" fill="#808080" fill-opacity="0.43"/>
<circle cx="269.00" cy="379.40" r="4.0" fill="#808080" fill-opacity="0.43"/>
<circle cx="267.70" cy="382.10" r="4.0" fill="#808080" fill-opacity="0.43"/>
<circle cx="272.40" cy="391.90" r="4.0" fill="#808080" fill-opacity="0.43"/>
<circle cx="282.00" cy="393.20" r="4.0" fill="#808080" fill-opacity="0.43"/>
<circle cx="282.00" cy="399.70" r="4.0" fill="#808080" fill-opacity="0.43"/>
<circle cx="299.80" cy="394.60" r="4.0" fill="#808080" fill-opacity="0.43"/>
<circle cx="312.50" cy="395.50" r="4.0" fill="#808080" fill-opacity="0.43"/>
<circle cx="297.40" cy="417.10" r="4.0" fill="#808080" fill-opacity="0.43"/>
<circle cx="296.70" cy="423.30" r="4.0" fill="#808080" fill-opacity="0.43"/>
<circle cx="271.10" cy="445.40" r="4.0" fill="#808080" fill-opacity="0.43"/>
<circle cx="283.40" cy="445.40" r="4.0" fill="#808080" fill-opacity="0.43"/>
<circle cx="286.60" cy="445.40" r="4.0" fill="#808080" fill-opacity="0.43"/>
<circle cx="316.70" cy="445.40" r="4.0" fill="#808080" fill-opacity="0.43"/>
<circle cx="364.60" cy="300.30" r="4.0" fill="#808080" fill-opacity="0.43"/>
<circle cx="416.30" cy="289.60" r="4.0" fill="#808080" fill-opacity="0.43"/>
<circle cx="413.10" cy="309.80" r="4.0" fill="#808080" fill-opacity="0.43"/>
<circle cx="283.60" cy="348.30" r="4.4" fill="#4B93DB" />
<circle cx="318.80" cy="349.30" r="4.4" fill="#9CBA3D" />
<circle cx="296.70" cy="361.30" r="4.4" fill="#8A5AA5" />
<circle cx="348.20" cy="401.90" r="4.4" fill="#D98BE3" />
<circle cx="432.50" cy="403.30" r="4.4" fill="#F3C934" />
</g>
<line x1="261.00" y1="434.70" x2="440.80" y2="434.70" stroke="#474747" stroke-width="1.3" />
<rect x="261.00" y="268.30" width="179.80" height="180.30" fill="none" stroke="#585858" stroke-width="1.2"/>
<path d="M258.40 448.50H261.00M258.40 434.94H261.00M258.40 427.01H261.00M258.40 421.38H261.00M258.40 417.01H261.00M258.40 413.44H261.00M258.40 410.43H261.00M258.40 407.82H261.00M258.40 405.51H261.00M258.40 403.45H261.00M258.40 389.89H261.00M258.40 381.96H261.00M258.40 376.33H261.00M258.40 371.96H261.00M258.40 368.39H261.00M258.40 365.38H261.00M258.40 362.77H261.00M258.40 360.46H261.00M258.40 358.40H261.00M258.40 344.84H261.00M258.40 336.91H261.00M258.40 331.28H261.00M258.40 326.91H261.00M258.40 323.34H261.00M258.40 320.33H261.00M258.40 317.72H261.00M258.40 315.41H261.00M258.40 313.35H261.00M258.40 299.79H261.00M258.40 291.86H261.00M258.40 286.23H261.00M258.40 281.86H261.00M258.40 278.29H261.00M258.40 275.28H261.00M258.40 272.67H261.00M258.40 270.36H261.00M258.40 268.30H261.00M266.51 448.60V451.60M274.44 448.60V451.60M280.07 448.60V451.60M284.44 448.60V451.60M288.01 448.60V451.60M291.02 448.60V451.60M293.63 448.60V451.60M295.94 448.60V451.60M298.00 448.60V451.60M311.56 448.60V451.60M319.49 448.60V451.60M325.12 448.60V451.60M329.49 448.60V451.60M333.06 448.60V451.60M336.07 448.60V451.60M338.68 448.60V451.60M340.99 448.60V451.60M343.05 448.60V451.60M356.61 448.60V451.60M364.54 448.60V451.60M370.17 448.60V451.60M374.54 448.60V451.60M378.11 448.60V451.60M381.12 448.60V451.60M383.73 448.60V451.60M386.04 448.60V451.60M388.10 448.60V451.60M401.66 448.60V451.60M409.59 448.60V451.60M415.22 448.60V451.60M419.59 448.60V451.60M423.16 448.60V451.60M426.17 448.60V451.60M428.78 448.60V451.60M431.09 448.60V451.60M433.15 448.60V451.60" stroke="#333" stroke-width="1.25" fill="none"/>
<line x1="354.50" y1="289.60" x2="360.80" y2="297.90" stroke="#111" stroke-width="1.1" />
<text x="349.70" y="287.80" font-size="9.4" fill="#111" stroke="#111" stroke-width="0.3" text-anchor="start" >Ptprc</text>
<line x1="335.80" y1="300.00" x2="341.20" y2="304.40" stroke="#111" stroke-width="1.1" />
<text x="318.50" y="297.70" font-size="9.4" fill="#111" stroke="#111" stroke-width="0.3" text-anchor="start" >Ptpn6</text>
<line x1="275.20" y1="339.00" x2="281.50" y2="345.40" stroke="#111" stroke-width="1.1" />
<text x="264.20" y="336.40" font-size="9.4" fill="#111" stroke="#111" stroke-width="0.3" text-anchor="start" >Ck-1<tspan font-family="Liberation Serif" font-style="italic">&#945;</tspan></text>
<line x1="327.50" y1="344.00" x2="332.10" y2="341.30" stroke="#111" stroke-width="1.1" />
<text x="329.00" y="340.00" font-size="9.4" fill="#111" stroke="#111" stroke-width="0.3" text-anchor="start" >Vav1</text>
<line x1="322.90" y1="351.20" x2="325.80" y2="351.20" stroke="#111" stroke-width="1.1" />
<text x="327.50" y="354.80" font-size="9.4" fill="#111" stroke="#111" stroke-width="0.3" text-anchor="start" >Cd28</text>
<line x1="303.80" y1="356.30" x2="320.60" y2="369.60" stroke="#111" stroke-width="1.1" />
<text x="321.90" y="373.10" font-size="9.4" fill="#111" stroke="#111" stroke-width="0.3" text-anchor="start" >Camk2d</text>
<line x1="298.10" y1="365.80" x2="301.30" y2="372.50" stroke="#111" stroke-width="1.1" />
<text x="293.10" y="381.20" font-size="9.4" fill="#111" stroke="#111" stroke-width="0.3" text-anchor="start" >Pkc-<tspan font-family="Liberation Serif">&#952;</tspan></text>
<line x1="318.70" y1="376.30" x2="324.40" y2="382.70" stroke="#111" stroke-width="1.1" />
<text x="325.40" y="388.80" font-size="9.4" fill="#111" stroke="#111" stroke-width="0.3" text-anchor="start" >Usp9x</text>
<line x1="280.80" y1="381.20" x2="286.90" y2="371.90" stroke="#111" stroke-width="1.1" />
<text x="264.50" y="389.90" font-size="9.4" fill="#111" stroke="#111" stroke-width="0.3" text-anchor="start" >Map4k1</text>
<line x1="352.10" y1="400.70" x2="366.30" y2="394.60" stroke="#111" stroke-width="1.1" />
<text x="359.20" y="392.20" font-size="9.4" fill="#111" stroke="#111" stroke-width="0.3" text-anchor="start" >Card11</text>
<line x1="421.80" y1="391.20" x2="429.90" y2="400.30" stroke="#111" stroke-width="1.1" />
<text x="397.60" y="388.20" font-size="9.4" fill="#111" stroke="#111" stroke-width="0.3" text-anchor="start" >Carmil2</text>
<line x1="405.00" y1="282.80" x2="413.70" y2="287.60" stroke="#111" stroke-width="1.1" />
<text x="390.50" y="281.20" font-size="9.4" fill="#111" stroke="#111" stroke-width="0.3" text-anchor="start" >Capzb</text>
<line x1="413.70" y1="314.50" x2="415.70" y2="323.60" stroke="#111" stroke-width="1.1" />
<text x="400.60" y="333.30" font-size="9.4" fill="#111" stroke="#111" stroke-width="0.3" text-anchor="start" >Capza2</text>
<clipPath id="p3"><rect x="65.60" y="463.90" width="180.00" height="180.30"/></clipPath>
<g clip-path="url(#p3)">
<polygon points="193.30,463.90 245.60,463.90 245.60,630.90 164.30,630.90 193.30,601.30" fill="#EBEBEB"/>
<polygon points="206.70,630.90 245.60,630.90 245.60,593.10" fill="#D7D7D7"/>
<path d="M71.21 463.90V644.20M79.14 463.90V644.20M84.77 463.90V644.20M89.14 463.90V644.20M92.71 463.90V644.20M95.72 463.90V644.20M98.33 463.90V644.20M100.64 463.90V644.20M102.70 463.90V644.20M116.26 463.90V644.20M124.19 463.90V644.20M129.82 463.90V644.20M134.19 463.90V644.20M137.76 463.90V644.20M140.77 463.90V644.20M143.38 463.90V644.20M145.69 463.90V644.20M147.75 463.90V644.20M161.31 463.90V644.20M169.24 463.90V644.20M174.87 463.90V644.20M179.24 463.90V644.20M182.81 463.90V644.20M185.82 463.90V644.20M188.43 463.90V644.20M190.74 463.90V644.20M192.80 463.90V644.20M206.36 463.90V644.20M214.29 463.90V644.20M219.92 463.90V644.20M224.29 463.90V644.20M227.86 463.90V644.20M230.87 463.90V644.20M233.48 463.90V644.20M235.79 463.90V644.20M237.85 463.90V644.20M65.60 644.10H245.60M65.60 630.54H245.60M65.60 622.61H245.60M65.60 616.98H245.60M65.60 612.61H245.60M65.60 609.04H245.60M65.60 606.03H245.60M65.60 603.42H245.60M65.60 601.11H245.60M65.60 599.05H245.60M65.60 585.49H245.60M65.60 577.56H245.60M65.60 571.93H245.60M65.60 567.56H245.60M65.60 563.99H245.60M65.60 560.98H245.60M65.60 558.37H245.60M65.60 556.06H245.60M65.60 554.00H245.60M65.60 540.44H245.60M65.60 532.51H245.60M65.60 526.88H245.60M65.60 522.51H245.60M65.60 518.94H245.60M65.60 515.93H245.60M65.60 513.32H245.60M65.60 511.01H245.60M65.60 508.95H245.60M65.60 495.39H245.60M65.60 487.46H245.60M65.60 481.83H245.60M65.60 477.46H245.60M65.60 473.89H245.60M65.60 470.88H245.60M65.60 468.27H245.60M65.60 465.96H245.60" stroke="#000" stroke-opacity="0.03" stroke-width="0.8" fill="none"/>
<line x1="206.70" y1="630.90" x2="245.60" y2="593.10" stroke="#454545" stroke-width="1.35" stroke-dasharray="4.4,2.8"/>
<circle cx="91.20" cy="495.00" r="4.0" fill="#808080" fill-opacity="0.43"/>
<circle cx="77.70" cy="500.40" r="4.0" fill="#808080" fill-opacity="0.43"/>
<circle cx="99.20" cy="514.80" r="4.0" fill="#808080" fill-opacity="0.43"/>
<circle cx="70.00" cy="516.20" r="4.0" fill="#808080" fill-opacity="0.43"/>
<circle cx="73.30" cy="522.50" r="4.0" fill="#808080" fill-opacity="0.43"/>
<circle cx="103.50" cy="522.50" r="4.0" fill="#808080" fill-opacity="0.43"/>
<circle cx="77.70" cy="527.70" r="4.0" fill="#808080" fill-opacity="0.43"/>
<circle cx="71.90" cy="536.90" r="4.0" fill="#808080" fill-opacity="0.43"/>
<circle cx="67.50" cy="537.90" r="4.0" fill="#808080" fill-opacity="0.43"/>
<circle cx="82.90" cy="554.60" r="4.0" fill="#808080" fill-opacity="0.43"/>
<circle cx="89.60" cy="554.00" r="4.0" fill="#808080" fill-opacity="0.43"/>
<circle cx="73.80" cy="563.10" r="4.0" fill="#808080" fill-opacity="0.43"/>
<circle cx="85.40" cy="569.40" r="4.0" fill="#808080" fill-opacity="0.43"/>
<circle cx="97.70" cy="612.70" r="4.0" fill="#808080" fill-opacity="0.43"/>
<circle cx="81.90" cy="618.80" r="4.0" fill="#808080" fill-opacity="0.43"/>
<circle cx="66.50" cy="641.50" r="4.0" fill="#808080" fill-opacity="0.43"/>
<circle cx="70.50" cy="641.50" r="4.0" fill="#808080" fill-opacity="0.43"/>
<circle cx="220.10" cy="484.80" r="4.0" fill="#808080" fill-opacity="0.43"/>
<circle cx="222.70" cy="505.40" r="4.0" fill="#808080" fill-opacity="0.43"/>
<circle cx="65.60" cy="587.70" r="4.0" fill="#808080" fill-opacity="0.43"/>
<circle cx="72.70" cy="543.10" r="4.4" fill="#4B93DB" />
<circle cx="102.90" cy="544.20" r="4.4" fill="#9CBA3D" />
<circle cx="101.50" cy="558.50" r="4.4" fill="#8A5AA5" />
<circle cx="159.50" cy="598.00" r="4.4" fill="#D98BE3" />
<circle cx="237.90" cy="599.40" r="4.4" fill="#E18C2B" />
</g>
<line x1="65.60" y1="630.90" x2="245.60" y2="630.90" stroke="#474747" stroke-width="1.3" />
<rect x="65.60" y="463.90" width="180.00" height="180.30" fill="none" stroke="#585858" stroke-width="1.2"/>
<path d="M63.00 644.10H65.60M63.00 630.54H65.60M63.00 622.61H65.60M63.00 616.98H65.60M63.00 612.61H65.60M63.00 609.04H65.60M63.00 606.03H65.60M63.00 603.42H65.60M63.00 601.11H65.60M63.00 599.05H65.60M63.00 585.49H65.60M63.00 577.56H65.60M63.00 571.93H65.60M63.00 567.56H65.60M63.00 563.99H65.60M63.00 560.98H65.60M63.00 558.37H65.60M63.00 556.06H65.60M63.00 554.00H65.60M63.00 540.44H65.60M63.00 532.51H65.60M63.00 526.88H65.60M63.00 522.51H65.60M63.00 518.94H65.60M63.00 515.93H65.60M63.00 513.32H65.60M63.00 511.01H65.60M63.00 508.95H65.60M63.00 495.39H65.60M63.00 487.46H65.60M63.00 481.83H65.60M63.00 477.46H65.60M63.00 473.89H65.60M63.00 470.88H65.60M63.00 468.27H65.60M63.00 465.96H65.60M63.00 463.90H65.60M71.21 644.20V647.20M79.14 644.20V647.20M84.77 644.20V647.20M89.14 644.20V647.20M92.71 644.20V647.20M95.72 644.20V647.20M98.33 644.20V647.20M100.64 644.20V647.20M102.70 644.20V647.20M116.26 644.20V647.20M124.19 644.20V647.20M129.82 644.20V647.20M134.19 644.20V647.20M137.76 644.20V647.20M140.77 644.20V647.20M143.38 644.20V647.20M145.69 644.20V647.20M147.75 644.20V647.20M161.31 644.20V647.20M169.24 644.20V647.20M174.87 644.20V647.20M179.24 644.20V647.20M182.81 644.20V647.20M185.82 644.20V647.20M188.43 644.20V647.20M190.74 644.20V647.20M192.80 644.20V647.20M206.36 644.20V647.20M214.29 644.20V647.20M219.92 644.20V647.20M224.29 644.20V647.20M227.86 644.20V647.20M230.87 644.20V647.20M233.48 644.20V647.20M235.79 644.20V647.20M237.85 644.20V647.20" stroke="#333" stroke-width="1.25" fill="none"/>
<line x1="94.40" y1="494.20" x2="102.10" y2="489.20" stroke="#111" stroke-width="1.1" />
<text x="98.30" y="488.50" font-size="9.4" fill="#111" stroke="#111" stroke-width="0.3" text-anchor="start" >Ptprc</text>
<line x1="79.60" y1="501.90" x2="88.70" y2="504.60" stroke="#111" stroke-width="1.1" />
<text x="89.60" y="510.00" font-size="9.4" fill="#111" stroke="#111" stroke-width="0.3" text-anchor="start" >Ptpn6</text>
<line x1="73.30" y1="536.90" x2="84.80" y2="532.10" stroke="#111" stroke-width="1.1" />
<text x="81.90" y="530.20" font-size="9.4" fill="#111" stroke="#111" stroke-width="0.3" text-anchor="start" >Vav1</text>
<line x1="106.90" y1="541.70" x2="118.10" y2="536.90" stroke="#111" stroke-width="1.1" />
<text x="119.40" y="539.80" font-size="9.4" fill="#111" stroke="#111" stroke-width="0.3" text-anchor="start" >Cd28</text>
<line x1="75.40" y1="545.40" x2="78.50" y2="547.70" stroke="#111" stroke-width="1.1" />
<text x="66.20" y="555.40" font-size="9.4" fill="#111" stroke="#111" stroke-width="0.3" text-anchor="start" >Ck-1<tspan font-family="Liberation Serif" font-style="italic">&#945;</tspan></text>
<line x1="105.40" y1="556.00" x2="116.20" y2="553.50" stroke="#111" stroke-width="1.1" />
<text x="118.10" y="556.90" font-size="9.4" fill="#111" stroke="#111" stroke-width="0.3" text-anchor="start" >Pkc-<tspan font-family="Liberation Serif">&#952;</tspan></text>
<line x1="90.60" y1="571.30" x2="101.20" y2="577.10" stroke="#111" stroke-width="1.1" />
<text x="98.30" y="587.70" font-size="9.4" fill="#111" stroke="#111" stroke-width="0.3" text-anchor="start" >Usp9x</text>
<line x1="162.80" y1="594.70" x2="171.70" y2="588.70" stroke="#111" stroke-width="1.1" />
<text x="161.20" y="585.80" font-size="9.4" fill="#111" stroke="#111" stroke-width="0.3" text-anchor="start" >Card11</text>
<line x1="227.80" y1="585.20" x2="234.90" y2="593.30" stroke="#111" stroke-width="1.1" />
<text x="204.00" y="582.20" font-size="9.4" fill="#111" stroke="#111" stroke-width="0.3" text-anchor="start" >Carmil2<tspan font-size="6" dy="-3.8">QE</tspan></text>
<line x1="208.00" y1="479.80" x2="217.70" y2="483.80" stroke="#111" stroke-width="1.1" />
<text x="193.10" y="478.20" font-size="9.4" fill="#111" stroke="#111" stroke-width="0.3" text-anchor="start" >Capzb</text>
<line x1="223.40" y1="508.50" x2="227.80" y2="517.60" stroke="#111" stroke-width="1.1" />
<text x="209.20" y="525.00" font-size="9.4" fill="#111" stroke="#111" stroke-width="0.3" text-anchor="start" >Capza2</text>
<text x="57.40" y="645.50" font-size="10.5" fill="#555" stroke="#555" stroke-width="0.3" text-anchor="end">10</text>
<text x="57.60" y="642.00" font-size="6.5" fill="#555" stroke="#555" stroke-width="0.3">&#8722;1</text>
<text x="57.40" y="603.05" font-size="10.5" fill="#555" stroke="#555" stroke-width="0.3" text-anchor="end">10</text>
<text x="57.60" y="599.55" font-size="6.5" fill="#555" stroke="#555" stroke-width="0.3">0</text>
<text x="57.40" y="558.00" font-size="10.5" fill="#555" stroke="#555" stroke-width="0.3" text-anchor="end">10</text>
<text x="57.60" y="554.50" font-size="6.5" fill="#555" stroke="#555" stroke-width="0.3">1</text>
<text x="57.40" y="513.05" font-size="10.5" fill="#555" stroke="#555" stroke-width="0.3" text-anchor="end">10</text>
<text x="57.60" y="509.55" font-size="6.5" fill="#555" stroke="#555" stroke-width="0.3">2</text>
<text x="57.40" y="469.50" font-size="10.5" fill="#555" stroke="#555" stroke-width="0.3" text-anchor="end">10</text>
<text x="57.60" y="466.00" font-size="6.5" fill="#555" stroke="#555" stroke-width="0.3">3</text>
<text transform="translate(98.70,650.6) rotate(90)" font-size="10.5" fill="#555" stroke="#555" stroke-width="0.3" text-anchor="start">10<tspan font-size="6.5" dy="-4.2">&#8722;3</tspan></text>
<text transform="translate(143.75,650.6) rotate(90)" font-size="10.5" fill="#555" stroke="#555" stroke-width="0.3" text-anchor="start">10<tspan font-size="6.5" dy="-4.2">&#8722;2</tspan></text>
<text transform="translate(188.80,650.6) rotate(90)" font-size="10.5" fill="#555" stroke="#555" stroke-width="0.3" text-anchor="start">10<tspan font-size="6.5" dy="-4.2">&#8722;1</tspan></text>
<text transform="translate(233.85,650.6) rotate(90)" font-size="10.5" fill="#555" stroke="#555" stroke-width="0.3" text-anchor="start">10<tspan font-size="6.5" dy="-4.2">0</tspan></text>
<clipPath id="p4"><rect x="261.90" y="463.00" width="180.30" height="180.50"/></clipPath>
<g clip-path="url(#p4)">
<polygon points="391.30,463.00 442.20,463.00 442.20,629.70 362.30,629.70 391.30,600.10" fill="#EBEBEB"/>
<polygon points="403.00,629.70 442.20,629.70 442.20,591.90" fill="#D7D7D7"/>
<path d="M268.01 463.00V643.50M275.94 463.00V643.50M281.57 463.00V643.50M285.94 463.00V643.50M289.51 463.00V643.50M292.52 463.00V643.50M295.13 463.00V643.50M297.44 463.00V643.50M299.50 463.00V643.50M313.06 463.00V643.50M320.99 463.00V643.50M326.62 463.00V643.50M330.99 463.00V643.50M334.56 463.00V643.50M337.57 463.00V643.50M340.18 463.00V643.50M342.49 463.00V643.50M344.55 463.00V643.50M358.11 463.00V643.50M366.04 463.00V643.50M371.67 463.00V643.50M376.04 463.00V643.50M379.61 463.00V643.50M382.62 463.00V643.50M385.23 463.00V643.50M387.54 463.00V643.50M389.60 463.00V643.50M403.16 463.00V643.50M411.09 463.00V643.50M416.72 463.00V643.50M421.09 463.00V643.50M424.66 463.00V643.50M427.67 463.00V643.50M430.28 463.00V643.50M432.59 463.00V643.50M434.65 463.00V643.50M261.90 643.20H442.20M261.90 629.64H442.20M261.90 621.71H442.20M261.90 616.08H442.20M261.90 611.71H442.20M261.90 608.14H442.20M261.90 605.13H442.20M261.90 602.52H442.20M261.90 600.21H442.20M261.90 598.15H442.20M261.90 584.59H442.20M261.90 576.66H442.20M261.90 571.03H442.20M261.90 566.66H442.20M261.90 563.09H442.20M261.90 560.08H442.20M261.90 557.47H442.20M261.90 555.16H442.20M261.90 553.10H442.20M261.90 539.54H442.20M261.90 531.61H442.20M261.90 525.98H442.20M261.90 521.61H442.20M261.90 518.04H442.20M261.90 515.03H442.20M261.90 512.42H442.20M261.90 510.11H442.20M261.90 508.05H442.20M261.90 494.49H442.20M261.90 486.56H442.20M261.90 480.93H442.20M261.90 476.56H442.20M261.90 472.99H442.20M261.90 469.98H442.20M261.90 467.37H442.20M261.90 465.06H442.20" stroke="#000" stroke-opacity="0.03" stroke-width="0.8" fill="none"/>
<line x1="403.00" y1="629.70" x2="442.20" y2="591.90" stroke="#454545" stroke-width="1.35" stroke-dasharray="4.4,2.8"/>
<circle cx="285.80" cy="488.50" r="4.0" fill="#808080" fill-opacity="0.43"/>
<circle cx="268.80" cy="499.40" r="4.0" fill="#808080" fill-opacity="0.43"/>
<circle cx="341.90" cy="499.40" r="4.0" fill="#808080" fill-opacity="0.43"/>
<circle cx="334.20" cy="510.00" r="4.0" fill="#808080" fill-opacity="0.43"/>
<circle cx="305.00" cy="513.50" r="4.0" fill="#808080" fill-opacity="0.43"/>
<circle cx="304.60" cy="519.20" r="4.0" fill="#808080" fill-opacity="0.43"/>
<circle cx="323.80" cy="515.80" r="4.0" fill="#808080" fill-opacity="0.43"/>
<circle cx="327.70" cy="521.50" r="4.0" fill="#808080" fill-opacity="0.43"/>
<circle cx="296.90" cy="521.20" r="4.0" fill="#808080" fill-opacity="0.43"/>
<circle cx="299.60" cy="524.40" r="4.0" fill="#808080" fill-opacity="0.43"/>
<circle cx="292.50" cy="527.30" r="4.0" fill="#808080" fill-opacity="0.43"/>
<circle cx="319.40" cy="526.30" r="4.0" fill="#808080" fill-opacity="0.43"/>
<circle cx="327.70" cy="538.50" r="4.0" fill="#808080" fill-opacity="0.43"/>
<circle cx="277.10" cy="538.80" r="4.0" fill="#808080" fill-opacity="0.43"/>
<circle cx="273.30" cy="543.70" r="4.0" fill="#808080" fill-opacity="0.43"/>
<circle cx="301.20" cy="540.80" r="4.0" fill="#808080" fill-opacity="0.43"/>
<circle cx="304.00" cy="536.90" r="4.0" fill="#808080" fill-opacity="0.43"/>
<circle cx="306.90" cy="537.70" r="4.0" fill="#808080" fill-opacity="0.43"/>
<circle cx="281.00" cy="550.80" r="4.0" fill="#808080" fill-opacity="0.43"/>
<circle cx="278.50" cy="557.90" r="4.0" fill="#808080" fill-opacity="0.43"/>
<circle cx="290.60" cy="555.00" r="4.0" fill="#808080" fill-opacity="0.43"/>
<circle cx="310.80" cy="550.20" r="4.0" fill="#808080" fill-opacity="0.43"/>
<circle cx="336.70" cy="554.00" r="4.0" fill="#808080" fill-opacity="0.43"/>
<circle cx="312.70" cy="562.30" r="4.0" fill="#808080" fill-opacity="0.43"/>
<circle cx="286.70" cy="562.70" r="4.0" fill="#808080" fill-opacity="0.43"/>
<circle cx="295.80" cy="563.10" r="4.0" fill="#808080" fill-opacity="0.43"/>
<circle cx="304.60" cy="567.50" r="4.0" fill="#808080" fill-opacity="0.43"/>
<circle cx="283.80" cy="572.30" r="4.0" fill="#808080" fill-opacity="0.43"/>
<circle cx="262.70" cy="577.10" r="4.0" fill="#808080" fill-opacity="0.43"/>
<circle cx="266.90" cy="587.70" r="4.0" fill="#808080" fill-opacity="0.43"/>
<circle cx="279.00" cy="586.70" r="4.0" fill="#808080" fill-opacity="0.43"/>
<circle cx="284.80" cy="593.80" r="4.0" fill="#808080" fill-opacity="0.43"/>
<circle cx="301.20" cy="589.20" r="4.0" fill="#808080" fill-opacity="0.43"/>
<circle cx="304.60" cy="590.00" r="4.0" fill="#808080" fill-opacity="0.43"/>
<circle cx="295.80" cy="611.50" r="4.0" fill="#808080" fill-opacity="0.43"/>
<circle cx="276.20" cy="617.70" r="4.0" fill="#808080" fill-opacity="0.43"/>
<circle cx="292.30" cy="641.50" r="4.0" fill="#808080" fill-opacity="0.43"/>
<circle cx="295.60" cy="641.50" r="4.0" fill="#808080" fill-opacity="0.43"/>
<circle cx="302.10" cy="641.50" r="4.0" fill="#808080" fill-opacity="0.43"/>
<circle cx="365.20" cy="494.70" r="4.0" fill="#808080" fill-opacity="0.43"/>
<circle cx="424.40" cy="483.80" r="4.0" fill="#808080" fill-opacity="0.43"/>
<circle cx="421.20" cy="504.40" r="4.0" fill="#808080" fill-opacity="0.43"/>
<circle cx="307.30" cy="542.80" r="4.4" fill="#4B93DB" />
<circle cx="321.30" cy="543.30" r="4.4" fill="#9CBA3D" />
<circle cx="304.60" cy="556.00" r="4.4" fill="#8A5AA5" />
<circle cx="393.50" cy="597.40" r="4.4" fill="#D98BE3" />
<circle cx="433.90" cy="598.40" r="4.4" fill="#E18C2B" />
</g>
<line x1="261.90" y1="629.70" x2="442.20" y2="629.70" stroke="#474747" stroke-width="1.3" />
<rect x="261.90" y="463.00" width="180.30" height="180.50" fill="none" stroke="#585858" stroke-width="1.2"/>
<path d="M259.30 643.20H261.90M259.30 629.64H261.90M259.30 621.71H261.90M259.30 616.08H261.90M259.30 611.71H261.90M259.30 608.14H261.90M259.30 605.13H261.90M259.30 602.52H261.90M259.30 600.21H261.90M259.30 598.15H261.90M259.30 584.59H261.90M259.30 576.66H261.90M259.30 571.03H261.90M259.30 566.66H261.90M259.30 563.09H261.90M259.30 560.08H261.90M259.30 557.47H261.90M259.30 555.16H261.90M259.30 553.10H261.90M259.30 539.54H261.90M259.30 531.61H261.90M259.30 525.98H261.90M259.30 521.61H261.90M259.30 518.04H261.90M259.30 515.03H261.90M259.30 512.42H261.90M259.30 510.11H261.90M259.30 508.05H261.90M259.30 494.49H261.90M259.30 486.56H261.90M259.30 480.93H261.90M259.30 476.56H261.90M259.30 472.99H261.90M259.30 469.98H261.90M259.30 467.37H261.90M259.30 465.06H261.90M259.30 463.00H261.90M268.01 643.50V646.50M275.94 643.50V646.50M281.57 643.50V646.50M285.94 643.50V646.50M289.51 643.50V646.50M292.52 643.50V646.50M295.13 643.50V646.50M297.44 643.50V646.50M299.50 643.50V646.50M313.06 643.50V646.50M320.99 643.50V646.50M326.62 643.50V646.50M330.99 643.50V646.50M334.56 643.50V646.50M337.57 643.50V646.50M340.18 643.50V646.50M342.49 643.50V646.50M344.55 643.50V646.50M358.11 643.50V646.50M366.04 643.50V646.50M371.67 643.50V646.50M376.04 643.50V646.50M379.61 643.50V646.50M382.62 643.50V646.50M385.23 643.50V646.50M387.54 643.50V646.50M389.60 643.50V646.50M403.16 643.50V646.50M411.09 643.50V646.50M416.72 643.50V646.50M421.09 643.50V646.50M424.66 643.50V646.50M427.67 643.50V646.50M430.28 643.50V646.50M432.59 643.50V646.50M434.65 643.50V646.50" stroke="#333" stroke-width="1.25" fill="none"/>
<line x1="351.10" y1="482.20" x2="362.20" y2="492.30" stroke="#111" stroke-width="1.1" />
<text x="345.70" y="481.20" font-size="9.4" fill="#111" stroke="#111" stroke-width="0.3" text-anchor="start" >Ptprc</text>
<line x1="329.00" y1="493.70" x2="337.30" y2="497.50" stroke="#111" stroke-width="1.1" />
<text x="311.70" y="491.20" font-size="9.4" fill="#111" stroke="#111" stroke-width="0.3" text-anchor="start" >Ptpn6</text>
<line x1="309.80" y1="538.80" x2="312.30" y2="534.60" stroke="#111" stroke-width="1.1" />
<text x="296.90" y="532.70" font-size="9.4" fill="#111" stroke="#111" stroke-width="0.3" text-anchor="start" >Ck-1<tspan font-family="Liberation Serif" font-style="italic">&#945;</tspan></text>
<line x1="331.50" y1="538.50" x2="339.60" y2="534.00" stroke="#111" stroke-width="1.1" />
<text x="338.00" y="532.70" font-size="9.4" fill="#111" stroke="#111" stroke-width="0.3" text-anchor="start" >Vav1</text>
<line x1="294.40" y1="551.20" x2="301.20" y2="554.60" stroke="#111" stroke-width="1.1" />
<text x="275.80" y="548.80" font-size="9.4" fill="#111" stroke="#111" stroke-width="0.3" text-anchor="start" >Pkc-<tspan font-family="Liberation Serif">&#952;</tspan></text>
<line x1="325.20" y1="544.20" x2="328.50" y2="544.60" stroke="#111" stroke-width="1.1" />
<text x="329.60" y="550.20" font-size="9.4" fill="#111" stroke="#111" stroke-width="0.3" text-anchor="start" >Cd28</text>
<line x1="312.30" y1="553.10" x2="323.30" y2="558.80" stroke="#111" stroke-width="1.1" />
<text x="324.60" y="566.20" font-size="9.4" fill="#111" stroke="#111" stroke-width="0.3" text-anchor="start" >Camk2d</text>
<line x1="288.10" y1="568.10" x2="293.10" y2="564.60" stroke="#111" stroke-width="1.1" />
<text x="271.90" y="578.10" font-size="9.4" fill="#111" stroke="#111" stroke-width="0.3" text-anchor="start" >Map4k1</text>
<line x1="307.90" y1="570.40" x2="316.20" y2="577.10" stroke="#111" stroke-width="1.1" />
<text x="318.50" y="582.90" font-size="9.4" fill="#111" stroke="#111" stroke-width="0.3" text-anchor="start" >Usp9x</text>
<line x1="379.40" y1="589.90" x2="390.10" y2="594.70" stroke="#111" stroke-width="1.1" />
<text x="363.20" y="587.70" font-size="9.4" fill="#111" stroke="#111" stroke-width="0.3" text-anchor="start" >Card11</text>
<line x1="423.20" y1="583.80" x2="429.90" y2="592.30" stroke="#111" stroke-width="1.1" />
<text x="399.60" y="581.20" font-size="9.4" fill="#111" stroke="#111" stroke-width="0.3" text-anchor="start" >Carmil2<tspan font-size="6" dy="-3.8">QE</tspan></text>
<line x1="408.70" y1="477.20" x2="420.80" y2="482.20" stroke="#111" stroke-width="1.1" />
<text x="393.50" y="475.10" font-size="9.4" fill="#111" stroke="#111" stroke-width="0.3" text-anchor="start" >Capzb</text>
<line x1="421.80" y1="507.50" x2="423.20" y2="516.50" stroke="#111" stroke-width="1.1" />
<text x="407.60" y="525.60" font-size="9.4" fill="#111" stroke="#111" stroke-width="0.3" text-anchor="start" >Capza2</text>
<text transform="translate(295.50,650.6) rotate(90)" font-size="10.5" fill="#555" stroke="#555" stroke-width="0.3" text-anchor="start">10<tspan font-size="6.5" dy="-4.2">&#8722;3</tspan></text>
<text transform="translate(340.55,650.6) rotate(90)" font-size="10.5" fill="#555" stroke="#555" stroke-width="0.3" text-anchor="start">10<tspan font-size="6.5" dy="-4.2">&#8722;2</tspan></text>
<text transform="translate(385.60,650.6) rotate(90)" font-size="10.5" fill="#555" stroke="#555" stroke-width="0.3" text-anchor="start">10<tspan font-size="6.5" dy="-4.2">&#8722;1</tspan></text>
<text transform="translate(430.65,650.6) rotate(90)" font-size="10.5" fill="#555" stroke="#555" stroke-width="0.3" text-anchor="start">10<tspan font-size="6.5" dy="-4.2">0</tspan></text>
<text x="138.70" y="261.10" font-size="11.7" fill="#111" stroke="#111" stroke-width="0.3" text-anchor="start" >NS</text>
<text x="315.80" y="260.20" font-size="11.6" fill="#111" stroke="#111" stroke-width="0.3" text-anchor="start" >2 min</text>
<text x="449.20" y="361.80" font-size="10.65" fill="#111" stroke="#111" stroke-width="0.3" text-anchor="start" >CARMIL2</text>
<text x="496.20" y="358.20" font-size="6.3" fill="#222" stroke="#222" stroke-width="0.3" text-anchor="start" >OST</text>
<text x="449.20" y="544.60" font-size="10.65" fill="#111" stroke="#111" stroke-width="0.3" text-anchor="start" >CARMIL2</text>
<text x="496.20" y="541.00" font-size="6.3" fill="#222" stroke="#222" stroke-width="0.3" text-anchor="start" >QE-OST</text>
<text x="186.70" y="683.30" font-size="10.7" fill="#111" stroke="#111" stroke-width="0.3" text-anchor="start" >Interaction stoichiometry</text>
<text transform="translate(30.8,455.9) rotate(-90)" font-size="10.85" fill="#111" stroke="#111" stroke-width="0.3" text-anchor="middle">Abundance ratio</text>
</svg>
</body></html>
